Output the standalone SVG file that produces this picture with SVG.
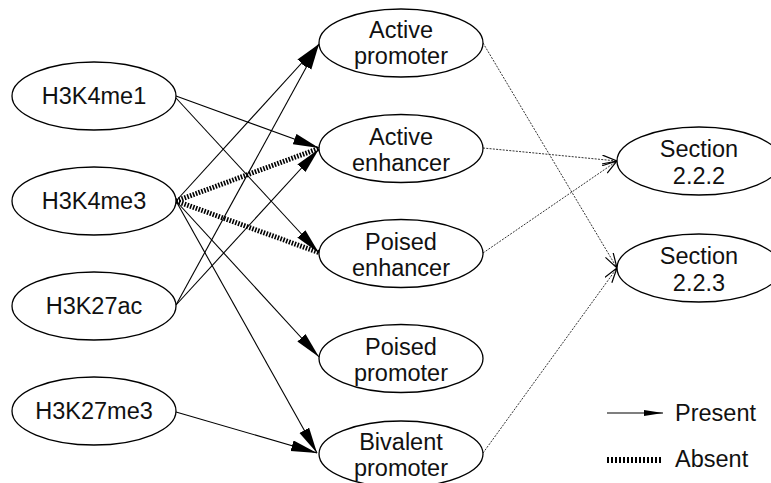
<svg xmlns="http://www.w3.org/2000/svg" width="771" height="483" viewBox="0 0 771 483">
<style>
.node ellipse{fill:#fff;stroke:#000;stroke-width:1.3}
text{font-family:"Liberation Sans",Arial,sans-serif;font-size:23.5px;fill:#111;text-anchor:middle}
.present{stroke:#000;stroke-width:1.1;fill:none;marker-end:url(#arr)}
.absent{stroke:#000;stroke-width:5;stroke-dasharray:1.6 1.4;fill:none}
.link{stroke:#333;stroke-width:1;stroke-dasharray:2 1.3;fill:none;marker-end:url(#open)}
</style>
<defs>
<marker id="arr" markerUnits="userSpaceOnUse" markerWidth="28" markerHeight="12" refX="26" refY="5.5" orient="auto">
<path d="M0,0 L26,5.5 L0,11 z" fill="#000" stroke="none"/>
</marker>
<marker id="arrs" markerUnits="userSpaceOnUse" markerWidth="20" markerHeight="8" refX="19" refY="3.5" orient="auto">
<path d="M0,0.5 L19,3.5 L0,6.5 z" fill="#000" stroke="none"/>
</marker>
<marker id="open" markerUnits="userSpaceOnUse" markerWidth="16" markerHeight="12" refX="15" refY="5" orient="auto">
<path d="M0,0.5 L15,5 L0,9.5" fill="none" stroke="#000" stroke-width="1.2" stroke-dasharray="none"/>
</marker>
</defs>
<g id="connectors">
<line class="present" x1="176" y1="96" x2="319" y2="148"/>
<line class="present" x1="176" y1="98" x2="319" y2="253"/>
<line class="present" x1="176" y1="201" x2="319" y2="44"/>
<line class="present" x1="176" y1="201" x2="319" y2="357"/>
<line class="present" x1="176" y1="201" x2="317" y2="453"/>
<line class="present" x1="176" y1="305" x2="319" y2="44"/>
<line class="present" x1="176" y1="305" x2="319" y2="149"/>
<line class="present" x1="176" y1="412" x2="317" y2="453"/>
<line class="absent" x1="176" y1="201" x2="320" y2="148"/>
<line class="absent" x1="176" y1="201" x2="320" y2="253"/>
<line class="link" x1="483" y1="43" x2="617" y2="268"/>
<line class="link" x1="483" y1="148" x2="617" y2="161"/>
<line class="link" x1="483" y1="253" x2="617" y2="161"/>
<line class="link" x1="483" y1="453" x2="617" y2="268"/>
</g>
<g id="H3K4me1" class="node"><ellipse cx="94" cy="96" rx="82" ry="34"/><text x="94" y="104">H3K4me1</text></g>
<g id="H3K4me3" class="node"><ellipse cx="94" cy="201" rx="82" ry="34"/><text x="94" y="209">H3K4me3</text></g>
<g id="H3K27ac" class="node"><ellipse cx="94" cy="306" rx="82" ry="34"/><text x="94" y="314">H3K27ac</text></g>
<g id="H3K27me3" class="node"><ellipse cx="94" cy="411" rx="82" ry="34"/><text x="94" y="419">H3K27me3</text></g>
<g id="active_promoter" class="node"><ellipse cx="401" cy="43" rx="82" ry="34"/><text x="401" y="38">Active</text><text x="401" y="64">promoter</text></g>
<g id="active_enhancer" class="node"><ellipse cx="401" cy="148.5" rx="82" ry="34"/><text x="401" y="144.5">Active</text><text x="401" y="170.5">enhancer</text></g>
<g id="poised_enhancer" class="node"><ellipse cx="401" cy="253.5" rx="82" ry="34"/><text x="401" y="249.5">Poised</text><text x="401" y="275.5">enhancer</text></g>
<g id="poised_promoter" class="node"><ellipse cx="401" cy="358.5" rx="82" ry="34"/><text x="401" y="354.5">Poised</text><text x="401" y="380.5">promoter</text></g>
<g id="bivalent_promoter" class="node"><ellipse cx="401" cy="454" rx="82" ry="33"/><text x="401" y="450">Bivalent</text><text x="401" y="476">promoter</text></g>
<g id="section_222" class="node"><ellipse cx="699" cy="161" rx="82" ry="34"/><text x="699" y="157">Section</text><text x="699" y="184">2.2.2</text></g>
<g id="section_223" class="node"><ellipse cx="699" cy="268" rx="82" ry="34"/><text x="699" y="264">Section</text><text x="699" y="291">2.2.3</text></g>
<g id="legend">
<line x1="607" y1="413" x2="663" y2="413" stroke="#000" stroke-width="1.1" marker-end="url(#arrs)"/>
<text x="675" y="421" style="text-anchor:start">Present</text>
<line x1="607" y1="460" x2="662" y2="460" stroke="#000" stroke-width="6" stroke-dasharray="2 2"/>
<text x="675" y="466.5" style="text-anchor:start">Absent</text>
</g>
</svg>
